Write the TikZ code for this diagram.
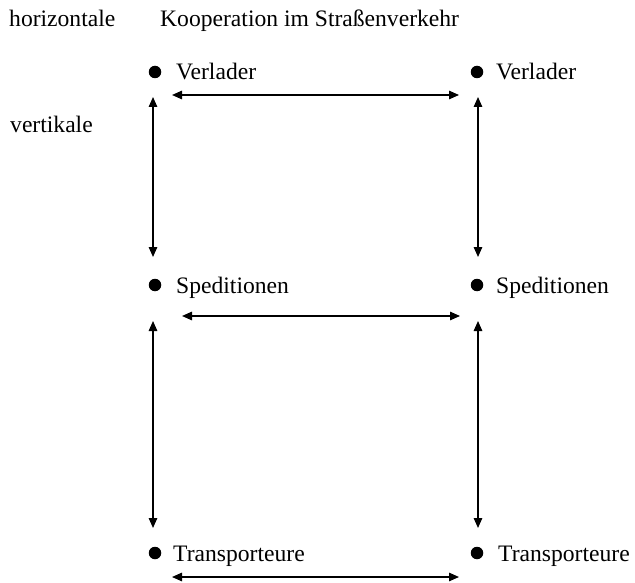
\documentclass[tikz,border=0pt]{standalone}
\usepackage{fontspec}
\setmainfont{Liberation Serif}
\usetikzlibrary{arrows.meta}
\begin{document}
\begin{tikzpicture}[x=1pt,y=-1pt,
  lbl/.style={anchor=base west,inner sep=0pt,font=\fontsize{23.6}{28}\selectfont},
  dot/.style={circle,fill=black,inner sep=0pt,minimum size=12.5pt},
  conn/.style={line width=1.4pt,{Triangle[length=10pt,width=8.5pt]}-{Triangle[length=10pt,width=8.5pt]}}]
\useasboundingbox (0,0) rectangle (635,583);
\node[lbl] (h) at (9,27) {horizontale};
\node[lbl] (k) at (160,27) {Kooperation im Straßenverkehr};
\node[lbl] (v) at (10,133) {vertikale};
% row 1
\node[dot] (d1) at (155,72) {};
\node[lbl] (t1) at (176,80) {Verlader};
\node[dot] (d2) at (477,72) {};
\node[lbl] (t2) at (496,80) {Verlader};
% row 2
\node[dot] (d3) at (155,285) {};
\node[lbl] (t3) at (176,293) {Speditionen};
\node[dot] (d4) at (477,285) {};
\node[lbl] (t4) at (496,293) {Speditionen};
% row 3
\node[dot] (d5) at (155,553) {};
\node[lbl] (t5) at (173,561) {Transporteure};
\node[dot] (d6) at (477,553) {};
\node[lbl] (t6) at (498,561) {Transporteure};
% arrow end points
\coordinate (a1l) at (172,95);  \coordinate (a1r) at (459,95);
\coordinate (a2l) at (182,316); \coordinate (a2r) at (460,316);
\coordinate (a3l) at (172,577); \coordinate (a3r) at (459,577);
\coordinate (v1t) at (153,97);  \coordinate (v1b) at (153,257);
\coordinate (v2t) at (478,97);  \coordinate (v2b) at (478,257);
\coordinate (v3t) at (153,321); \coordinate (v3b) at (153,528);
\coordinate (v4t) at (478,321); \coordinate (v4b) at (478,528);
\draw[conn] (a1l) -- (a1r);
\draw[conn] (a2l) -- (a2r);
\draw[conn] (a3l) -- (a3r);
\draw[conn] (v1t) -- (v1b);
\draw[conn] (v2t) -- (v2b);
\draw[conn] (v3t) -- (v3b);
\draw[conn] (v4t) -- (v4b);
\end{tikzpicture}
\end{document}
